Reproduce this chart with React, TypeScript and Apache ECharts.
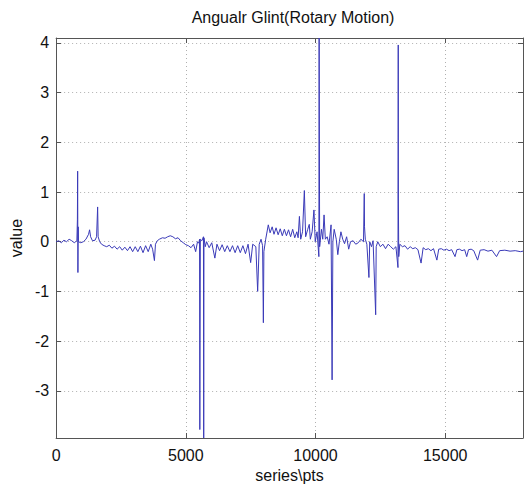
import React, { useEffect, useRef } from "react";
import * as echarts from "echarts";

const titleText = "Angualr Glint(Rotary Motion)";
const xName = "series\\pts";
const yName = "value";

const samplePts = [
  0, 100, 200, 300, 400, 500, 600, 700, 800,
  820, 830, 840, 850, 860, 950, 1050, 1150, 1250, 1290, 1330, 1400, 1500, 1560, 1600, 1620, 1680, 1750, 1850, 1950,
  2050, 2150, 2250, 2350, 2450, 2550, 2650, 2750, 2850, 2950, 3050, 3150, 3250, 3350, 3450, 3550, 3650, 3720, 3790, 3830,
  3900, 3980, 4100, 4200, 4300, 4400, 4500, 4600, 4700, 4800, 4900, 5000, 5100, 5200, 5300, 5380, 5450, 5500,
  5530, 5540, 5560, 5620, 5680, 5690, 5700, 5750, 5800, 5900, 6000, 6120, 6200, 6300, 6400, 6500, 6600, 6700, 6800, 6900,
  7000, 7100, 7200, 7300, 7400, 7500, 7580, 7700, 7770, 7830, 7900, 7960, 7990, 8010, 8080, 8180,
  8250, 8330, 8400, 8480, 8560, 8640, 8720, 8800, 8880, 8960, 9040, 9120, 9200, 9280, 9330, 9380, 9430, 9500, 9570, 9620,
  9700, 9760, 9800, 9870, 9940, 9990, 10060, 10130, 10140, 10160, 10230, 10280, 10330, 10380, 10450, 10520, 10600, 10640,
  10670, 10720, 10800, 10860, 10920, 10980, 11050, 11120, 11200, 11280, 11350, 11450, 11550, 11650, 11750, 11850, 11880,
  11890, 11920, 11980, 12060, 12090, 12160, 12220, 12320, 12340, 12400, 12500, 12600, 12700, 12800, 12900, 13000, 13100,
  13180, 13190, 13195, 13210, 13250, 13350, 13450, 13550, 13650, 13750, 13850, 13950, 14070, 14150, 14250, 14350, 14450,
  14550, 14680, 14750, 14850, 14950, 15050, 15150, 15250, 15380, 15450, 15550, 15650, 15750, 15830, 15900, 16000, 16100,
  16250, 16350, 16500, 16650, 16800, 16980, 17100, 17300, 17500, 17700, 17900, 18000,
];

const sampleValues = [
  0.0, 0.02, -0.02, 0.03, 0.0, 0.05, 0.02, -0.02, 0.02,
  0.44, 1.42, -0.62, 0.3, 0.0, -0.02, 0.0, 0.05, 0.15, 0.24, 0.1, 0.02, 0.03, 0.1, 0.7, 0.1, 0.0, -0.05, -0.08, -0.1,
  -0.07, -0.13, -0.09, -0.15, -0.1, -0.17, -0.11, -0.18, -0.1, -0.2, -0.1, -0.2, -0.09, -0.22, -0.08, -0.2, -0.05, -0.15, -0.38, -0.05,
  0.02, 0.05, 0.08, 0.07, 0.1, 0.12, 0.1, 0.06, 0.08, 0.02, -0.02, -0.06, -0.08, -0.12, -0.05, -0.2, 0.0, -0.03,
  0.05, -3.78, 0.05, 0.02, 0.1, -3.95, 0.08, -0.1, 0.0, -0.12, -0.02, -0.33, -0.05, -0.18, -0.06, -0.2, -0.08, -0.2, -0.08, -0.22,
  -0.08, -0.22, -0.08, -0.24, -0.05, -0.42, -0.05, -0.1, -1.0, -0.05, 0.05, -0.08, -1.63, -0.2, 0.05, 0.34,
  0.18, 0.3, 0.15, 0.28, 0.14, 0.26, 0.12, 0.25, 0.12, 0.24, 0.1, 0.25, 0.08, 0.2, 0.08, 0.51, 0.05, 0.2, 1.03, 0.1,
  0.25, 0.35, 0.05, 0.2, 0.64, 0.0, 0.2, -0.3, 4.1, -0.1, 0.25, 0.05, 0.54, 0.05, 0.1, -0.05, 0.34, -2.78,
  0.0, 0.25, 0.05, -0.26, 0.0, 0.2, 0.05, -0.04, 0.1, -0.15, 0.0, 0.02, -0.05, -0.02, 0.05, 0.0, 0.97,
  0.3, 0.05, -0.05, -0.72, 0.0, -0.1, 0.02, -1.47, -0.1, 0.0, -0.1, -0.05, -0.14, -0.05, -0.1, -0.15, -0.1,
  -0.52, 3.96, 0.88, -0.3, -0.05, -0.1, -0.08, -0.15, -0.1, -0.14, -0.12, -0.16, -0.43, -0.12, -0.16, -0.14, -0.18,
  -0.14, -0.37, -0.15, -0.14, -0.17, -0.15, -0.18, -0.16, -0.3, -0.16, -0.15, -0.18, -0.16, -0.3, -0.16, -0.15, -0.18,
  -0.37, -0.17, -0.16, -0.19, -0.17, -0.3, -0.18, -0.17, -0.19, -0.18, -0.2, -0.19,
];

const xMin = 0;
const xMax = 18000;
const xInterval = 5000;
const yMin = -3.95;
const yMax = 4.1;

export default function App() {
  const ref = useRef<HTMLDivElement>(null);
  useEffect(() => {
    document.body.style.margin = "0";
    if (!ref.current) return;
    const chart = echarts.init(ref.current, null, { renderer: "svg" });
    const font = "Liberation Sans, Arial, sans-serif";
    const data = samplePts.map((x, i) => [x, sampleValues[i]]);
    const gridLine = { show: true, lineStyle: { color: "#b0b0b0", type: [1, 3] as any, width: 1 } };
    const boxLine = { show: true, onZero: false, lineStyle: { color: "#555", width: 1 } };
    const tick = { show: true, inside: true, length: 5, lineStyle: { color: "#555" } };
    chart.setOption({
      animation: false,
      backgroundColor: "#fff",
      title: {
        text: titleText,
        left: 288,
        textAlign: "center",
        top: 4,
        textStyle: { fontFamily: font, fontSize: 16, fontWeight: "normal", color: "#111" },
      },
      grid: { left: 53, right: 3, top: 38, bottom: 51, containLabel: false },
      xAxis: [
        {
          type: "value",
          min: xMin,
          max: xMax,
          interval: xInterval,
          name: xName,
          nameLocation: "middle",
          nameGap: 28,
          nameTextStyle: { fontFamily: font, fontSize: 16, color: "#111" },
          axisLine: boxLine,
          axisTick: tick,
          splitLine: gridLine,
          axisLabel: {
            fontFamily: font,
            fontSize: 16,
            color: "#111",
            margin: 9,
            formatter: (v: number) => (v % xInterval === 0 ? String(v) : ""),
          },
        },
        {
          type: "value",
          position: "top",
          min: xMin,
          max: xMax,
          interval: xInterval,
          axisLine: boxLine,
          axisTick: tick,
          splitLine: { show: false },
          axisLabel: { show: false },
        },
      ],
      yAxis: [
        {
          type: "value",
          min: yMin,
          max: yMax,
          splitNumber: 8,
          name: yName,
          nameLocation: "middle",
          nameGap: 28,
          nameTextStyle: { fontFamily: font, fontSize: 16, color: "#111" },
          axisLine: boxLine,
          axisTick: tick,
          splitLine: gridLine,
          axisLabel: {
            fontFamily: font,
            fontSize: 16,
            color: "#111",
            margin: 7,
            showMinLabel: false,
            showMaxLabel: false,
            formatter: (v: number) => (Math.abs(v - Math.round(v)) < 1e-6 ? String(Math.round(v)) : ""),
          },
        },
        {
          type: "value",
          position: "right",
          min: yMin,
          max: yMax,
          splitNumber: 8,
          axisLine: boxLine,
          axisTick: tick,
          splitLine: { show: false },
          axisLabel: { show: false },
        },
      ],
      series: [
        {
          type: "line",
          data,
          xAxisIndex: 0,
          yAxisIndex: 0,
          showSymbol: false,
          symbol: "none",
          clip: true,
          lineStyle: { color: "#3a3ab8", width: 1 },
        },
      ],
    });
    return () => chart.dispose();
  }, []);
  return <div ref={ref} style={{ width: 526, height: 489 }} />;
}
